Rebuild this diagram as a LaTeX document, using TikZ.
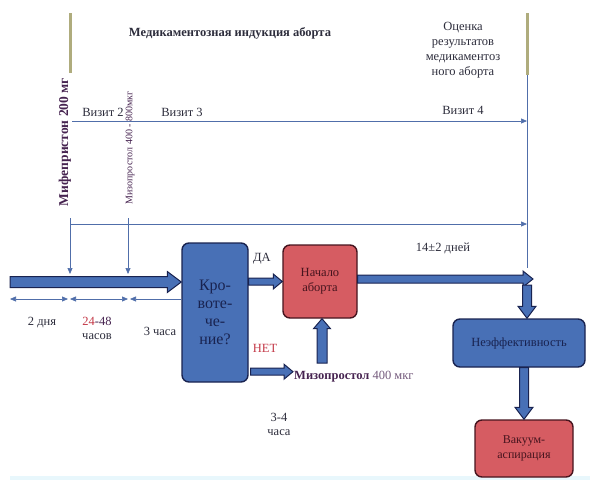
\documentclass[tikz,border=0pt]{standalone}
\usepackage{fontspec}
\setmainfont{Liberation Serif}
\usetikzlibrary{arrows.meta, calc}

\definecolor{boxblue}{RGB}{72,112,182}
\definecolor{navyedge}{RGB}{25,35,80}
\definecolor{boxred}{RGB}{214,92,98}
\definecolor{rededge}{RGB}{70,20,30}
\definecolor{lineblue}{RGB}{80,110,170}
\definecolor{barolive}{RGB}{175,172,125}
\definecolor{txt}{RGB}{45,45,60}
\definecolor{purp}{RGB}{70,35,80}
\definecolor{redtxt}{RGB}{195,55,70}
\definecolor{bandcyan}{RGB}{232,247,252}

% wide outlined arrow: from, to, shaft half width, head half width, head length
\newcommand{\fatarrow}[5]{%
  \draw[fatarr] let \p1=(#1), \p2=(#2), \n1={atan2(\y2-\y1,\x2-\x1)},
      \n2={veclen(\x2-\x1,\y2-\y1)} in
    [shift={(\p1)}, rotate=\n1]
    (0pt,-#3) -- (\n2-#5,-#3) -- (\n2-#5,-#4) -- (\n2,0pt)
    -- (\n2-#5,#4) -- (\n2-#5,#3) -- (0pt,#3) -- cycle;}

\begin{document}
\begin{tikzpicture}[
    x=1pt, y=1pt, text=txt, font=\fontsize{12.5}{14}\selectfont,
    bluebox/.style={draw=navyedge, fill=boxblue, line width=1.4pt,
                    rounded corners=7pt, align=center, text=navyedge},
    redbox/.style={draw=rededge, fill=boxred, line width=1.4pt,
                   rounded corners=7pt, align=center, text=rededge},
    thin/.style={draw=lineblue, line width=0.7pt},
    tip/.style={-{Triangle[length=6pt, width=5pt]}},
    bothtips/.style={{Triangle[length=6pt, width=5pt]}-{Triangle[length=6pt, width=5pt]}},
    fatarr/.style={draw=navyedge, fill=boxblue, line width=1pt},
    lbl/.style={inner sep=1pt, align=center}
]

    \useasboundingbox (0,0) rectangle (590,-480);
    \fill[bandcyan] (10,-476) rectangle (590,-480);

    % header
    \node[lbl, font=\bfseries\fontsize{12.5}{14}\selectfont] (title) at (230,-33)
        {Медикаментозная индукция аборта};
    \node[lbl, font=\fontsize{12.5}{15}\selectfont] (ocenka) at (463,-50)
        {Оценка\\результатов\\медикаментоз\\ного аборта};
    \node[lbl, rotate=90, text=purp, font=\bfseries\fontsize{13.5}{15}\selectfont] (mife) at (65,-142)
        {Мифепристон 200 мг};
    \node[lbl, rotate=90, text=purp, font=\fontsize{10}{11}\selectfont] (mizoA) at (130,-148)
        {Мизопростол 400 - 800мкг};
    \node[lbl] (viz2) at (103,-112) {Визит 2};
    \node[lbl] (viz3) at (182,-112) {Визит 3};
    \node[lbl] (viz4) at (463,-110) {Визит 4};

    % time axis
    \coordinate (barA) at (70,-13);   \coordinate (barAe) at (70,-73);
    \coordinate (barB) at (527,-13);  \coordinate (barBe) at (527,-75);
    \draw[barolive, line width=3pt] (barA) -- (barAe);
    \draw[barolive, line width=3pt] (barB) -- (barBe);
    \draw[thin] (barBe) -- (527,-268);

    \coordinate (vA) at (72,-121);   \coordinate (vB) at (527,-121);
    \draw[thin, tip] (vA) -- (vB);
    \coordinate (wA) at (70,-224);   \coordinate (wB) at (527,-224);
    \draw[thin, tip] (wA) -- (wB);
    \coordinate (tk1) at (70,-218);  \coordinate (tk2) at (128,-218);
    \draw[thin, tip] (tk1) -- (70,-274);
    \draw[thin, tip] (tk2) -- (128,-274);

    % boxes
    \node[bluebox, minimum width=66pt, minimum height=139pt,
          font=\fontsize{16}{18}\selectfont] (krov) at (215,-312.5)
        {Кро-\\воте-\\че-\\ние?};
    \node[redbox, minimum width=74pt, minimum height=73pt,
          font=\fontsize{12.5}{15}\selectfont] (nach) at (320,-281.5)
        {Начало\\аборта};
    \node[bluebox, minimum width=132pt, minimum height=48pt] (neeff) at (519,-343)
        {Неэффективность};
    \node[redbox, minimum width=98pt, minimum height=57pt,
          font=\fontsize{12}{15}\selectfont] (vak) at (524,-448.5)
        {Вакуум-\\аспирация};
    \node[lbl, anchor=west, text=purp] (mizoB) at (293,-377)
        {\textbf{Мизопростол} \textcolor{purp!75}{400 мкг}};

    % timing marks
    \coordinate (m0) at (10,-299);  \coordinate (m1) at (68,-299);
    \coordinate (m2) at (70,-299);  \coordinate (m3) at (128,-299);
    \coordinate (m4) at (130,-299);
    \draw[thin, bothtips] (m0) -- (m1);
    \draw[thin, bothtips] (m2) -- (m3);
    \draw[thin, {Triangle[length=6pt, width=5pt]}-] (m4) -- (krov.west |- m4);

    \node[lbl] (d2) at (42,-323) {2 дня};
    \node[lbl] (d24) at (97,-328) {\textcolor{redtxt}{24}\textcolor{purp}{-48}\\часов};
    \node[lbl] (d3) at (160,-331) {3 часа};
    \node[lbl] (d34) at (279,-424) {3-4\\часа};
    \node[lbl] (da) at (262,-259) {ДА};
    \node[lbl, text=redtxt] (net) at (265,-348) {НЕТ};
    \node[lbl] (days) at (443,-248) {14±2 дней};

    % wide arrows
    \coordinate (in) at (10,-282);
    \fatarrow{in}{krov.west |- in}{5.5pt}{10.5pt}{14pt}
    \fatarrow{krov.east |- nach.west}{nach.west}{3.5pt}{7.5pt}{9pt}
    \coordinate (netA) at ($(krov.south east)+(2,11)$);
    \fatarrow{netA}{mizoB.west |- netA}{3.5pt}{7.5pt}{9pt}
    \coordinate (upA) at (322,-363);
    \fatarrow{upA}{upA |- nach.south}{5pt}{8.5pt}{10pt}
    \coordinate (rgt) at (533,-279);
    \fatarrow{nach.east |- rgt}{rgt}{4pt}{8pt}{10pt}
    \coordinate (dn1) at (527,-285);
    \fatarrow{dn1}{dn1 |- neeff.north}{4.5pt}{9pt}{12pt}
    \fatarrow{vak.north |- neeff.south}{vak.north}{4.5pt}{9pt}{12pt}

\end{tikzpicture}
\end{document}
